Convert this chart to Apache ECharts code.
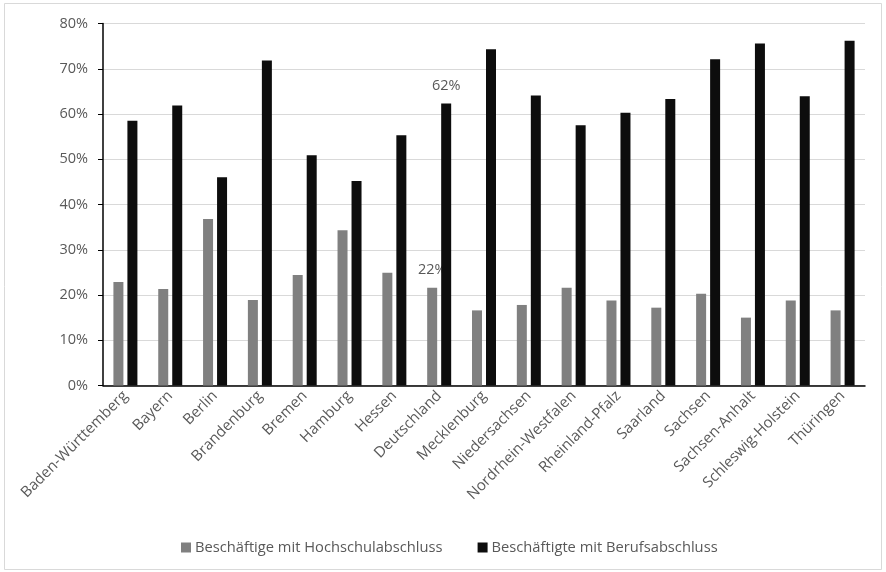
<!DOCTYPE html>
<html>
<head>
<meta charset="utf-8">
<script src="https://cdn.jsdelivr.net/npm/echarts@6/dist/echarts.min.js"></script>
<style>
  html, body { margin: 0; padding: 0; background: #fff; }
  #chart { width: 886px; height: 572px; }
</style>
</head>
<body>
<div id="chart"></div>
<script>
// Bundesländer plus Deutschland as the national reference
const categories = [
  'Baden-Württemberg', 'Bayern', 'Berlin', 'Brandenburg', 'Bremen', 'Hamburg',
  'Hessen', 'Deutschland', 'Mecklenburg', 'Niedersachsen', 'Nordrhein-Westfalen',
  'Rheinland-Pfalz', 'Saarland', 'Sachsen', 'Sachsen-Anhalt', 'Schleswig-Holstein', 'Thüringen'
];
// Shares in percent
const hochschule = [22.9, 21.3, 36.8, 18.9, 24.4, 34.3, 24.9, 21.6, 16.6, 17.8, 21.6, 18.8, 17.2, 20.3, 15.0, 18.8, 16.6];
const beruf = [58.5, 61.9, 46.0, 71.8, 50.9, 45.2, 55.3, 62.3, 74.3, 64.1, 57.5, 60.3, 63.3, 72.1, 75.6, 63.9, 76.2];
const seriesNames = ['Beschäftige mit Hochschulabschluss', 'Beschäftigte mit Berufsabschluss'];
const yTicks = [0, 10, 20, 30, 40, 50, 60, 70, 80];
// Only the national value gets a data label
const labelledCategory = 'Deutschland';

const FONT = 'Open Sans';
const TEXT = '#595959';

function withLabel(values) {
  return values.map((v, i) => {
    if (categories[i] !== labelledCategory) return v;
    return {
      value: v,
      label: {
        show: true, position: 'top', distance: 10,
        formatter: p => Math.round(p.value) + '%',
        color: TEXT, fontFamily: FONT, fontSize: 14.5
      }
    };
  });
}

const chart = echarts.init(document.getElementById('chart'), null, { renderer: 'canvas' });
chart.setOption({
  animation: false,
  backgroundColor: '#fff',
  textStyle: { fontFamily: FONT },
  graphic: [{
    type: 'rect', silent: true, z: -1,
    shape: { x: 4.5, y: 3.5, width: 877, height: 566 },
    style: { fill: 'none', stroke: '#d9d9d9', lineWidth: 1 }
  }],
  grid: { left: 103, right: 21, top: 23.5, bottom: 186.5, containLabel: false },
  legend: {
    top: 535, left: 176,
    itemWidth: 10, itemHeight: 10, itemGap: 35,
    icon: 'rect',
    textStyle: { color: TEXT, fontFamily: FONT, fontSize: 14.7, padding: [0, 0, 0, -1] },
    data: seriesNames
  },
  xAxis: {
    type: 'category',
    data: categories,
    axisLine: { lineStyle: { color: '#000', width: 1.5 } },
    axisTick: { alignWithLabel: true, length: 5, lineStyle: { color: '#000' } },
    axisLabel: { rotate: 45, interval: 0, margin: 8, color: TEXT, fontFamily: FONT, fontSize: 15 }
  },
  yAxis: {
    type: 'value', min: yTicks[0], max: yTicks[yTicks.length - 1], interval: 10,
    axisLine: { show: true, lineStyle: { color: '#000', width: 1.5 } },
    axisTick: { show: true, length: 5, inside: false, lineStyle: { color: '#000' } },
    splitLine: { lineStyle: { color: '#d9d9d9', width: 1 } },
    axisLabel: { formatter: '{value}%', margin: 15, color: TEXT, fontFamily: FONT, fontSize: 14.5 }
  },
  series: [
    {
      name: seriesNames[0], type: 'bar', z: 2,
      barWidth: 10, barGap: '40%',
      itemStyle: { color: '#808080' },
      data: withLabel(hochschule)
    },
    {
      name: seriesNames[1], type: 'bar', z: 3,
      barWidth: 10,
      itemStyle: { color: '#0d0d0d' },
      data: withLabel(beruf)
    }
  ]
});
</script>
</body>
</html>
